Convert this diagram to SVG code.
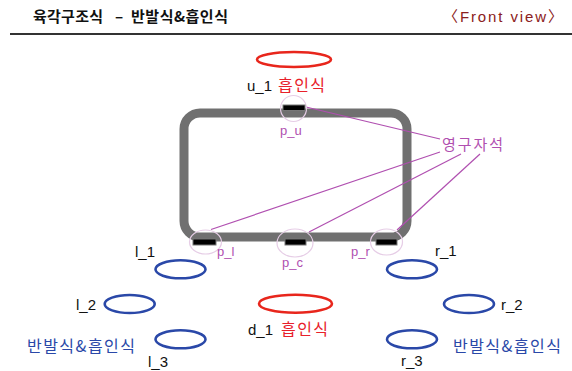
<svg xmlns="http://www.w3.org/2000/svg" width="572" height="371" viewBox="0 0 572 371">
<style>
text{font-family:"Liberation Sans","Noto Sans CJK KR",sans-serif;}
.k{font-family:"Noto Sans CJK KR","Liberation Sans",sans-serif;}
.lbl{font-size:15px;fill:#111;}
.red{fill:#e8202a;}
.blue{fill:#2a48a8;}
.pur{fill:#b04fb0;}
.be{fill:none;stroke:#2a48a8;stroke-width:2.6;}
.re{fill:none;stroke:#e8261c;stroke-width:2.6;}
.bar{fill:#000;stroke:#777;stroke-width:1;}
.ring{fill:none;stroke:#e6cde6;stroke-width:1.2;}
.pl{stroke:#b04fb0;stroke-width:1.2;fill:none;}
.title{font-family:"Noto Sans CJK KR","Liberation Sans",sans-serif;font-size:15px;font-weight:bold;fill:#111;}
</style>
<rect width="572" height="371" fill="#fff"/>
<g id="header">
<text y="22" class="title"><tspan x="33" textLength="70" lengthAdjust="spacing">육각구조식</tspan><tspan x="115">–</tspan><tspan x="131" textLength="97" lengthAdjust="spacing">반발식&amp;흡인식</tspan></text>
<text x="443" y="22" font-size="15" fill="#8b2020" textLength="120" lengthAdjust="spacing">〈Front view〉</text>
<line x1="10" y1="34" x2="572" y2="34" stroke="#333" stroke-width="2"/>
</g>
<g id="frame">
<rect x="184" y="113" width="223" height="124" rx="16" ry="16" fill="none" stroke="#707070" stroke-width="9"/>
</g>
<g id="connectors">
<line class="pl" x1="306" y1="107" x2="440" y2="139"/>
<line class="pl" x1="211" y1="229.5" x2="440" y2="152"/>
<line class="pl" x1="309" y1="232" x2="461" y2="154"/>
<line class="pl" x1="397" y1="230" x2="480" y2="154"/>
</g>
<g id="p_u">
<ellipse class="ring" cx="293.5" cy="108.5" rx="13" ry="13"/>
<rect class="bar" x="283" y="105" width="22" height="5.5"/>
<text x="280" y="135" font-size="13" class="pur">p_u</text>
</g>
<g id="p_l">
<ellipse class="ring" cx="205.5" cy="242" rx="16" ry="12"/>
<rect class="bar" x="193" y="239" width="23" height="6"/>
<text x="217" y="256" font-size="13" class="pur">p_l</text>
</g>
<g id="p_c">
<ellipse class="ring" cx="295" cy="243" rx="18" ry="14"/>
<rect class="bar" x="285" y="239" width="21" height="6"/>
<text x="282" y="267" font-size="13" class="pur">p_c</text>
</g>
<g id="p_r">
<ellipse class="ring" cx="386.5" cy="242" rx="16" ry="13"/>
<rect class="bar" x="376" y="239" width="21" height="6"/>
<text x="351" y="256" font-size="13" class="pur">p_r</text>
</g>
<g id="magnet-label">
<text x="442" y="150" class="k pur" font-size="15" textLength="61" lengthAdjust="spacing">영구자석</text>
</g>
<g id="u_1">
<ellipse class="re" cx="294" cy="59.5" rx="37" ry="7.5"/>
<text x="247" y="91" class="lbl">u_1 <tspan class="k red" x="278" font-size="16" textLength="47" lengthAdjust="spacing">흡인식</tspan></text>
</g>
<g id="d_1">
<ellipse class="re" cx="295.5" cy="303.7" rx="36.5" ry="9"/>
<text x="248" y="335" class="lbl">d_1 <tspan class="k red" x="281" font-size="16" textLength="47" lengthAdjust="spacing">흡인식</tspan></text>
</g>
<g id="l_1">
<ellipse class="be" cx="180.5" cy="269.3" rx="25" ry="9"/>
<text x="135" y="257" class="lbl">l_1</text>
</g>
<g id="l_2">
<ellipse class="be" cx="129.7" cy="304" rx="25" ry="9"/>
<text x="76" y="310" class="lbl">l_2</text>
</g>
<g id="l_3">
<ellipse class="be" cx="180.5" cy="339.3" rx="25" ry="9"/>
<text x="148" y="367" class="lbl">l_3</text>
</g>
<g id="r_1">
<ellipse class="be" cx="412" cy="269.3" rx="25" ry="9"/>
<text x="435" y="256" class="lbl">r_1</text>
</g>
<g id="r_2">
<ellipse class="be" cx="469" cy="304" rx="25" ry="9"/>
<text x="501" y="310" class="lbl">r_2</text>
</g>
<g id="r_3">
<ellipse class="be" cx="412" cy="339.3" rx="25" ry="9"/>
<text x="401" y="366" class="lbl">r_3</text>
</g>
<g id="left-label">
<text x="27" y="352" class="k blue" font-size="16" textLength="108" lengthAdjust="spacing">반발식&amp;흡인식</text>
</g>
<g id="right-label">
<text x="453" y="352" class="k blue" font-size="16" textLength="108" lengthAdjust="spacing">반발식&amp;흡인식</text>
</g>
</svg>
